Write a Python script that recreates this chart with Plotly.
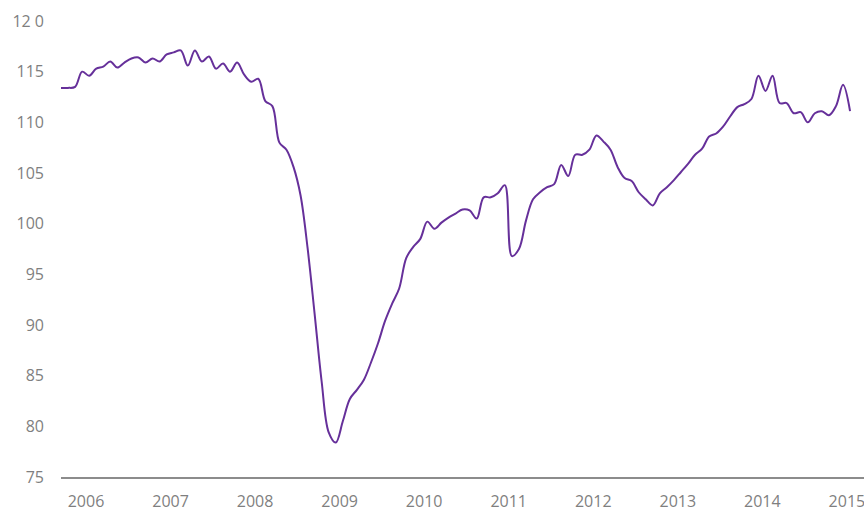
import plotly.graph_objects as go

# Monthly index values (113 months, ~Sep 2005 .. Jan 2015)
values = [
    113.4, 113.4, 113.5, 115.0, 114.6, 115.3, 115.5, 116.0, 115.4, 115.9,   # 0-9
    116.3, 116.4, 115.9, 116.3, 116.0, 116.7, 116.9, 117.1, 115.6, 117.1,   # 10-19
    116.0, 116.5, 115.3, 115.8, 115.0, 115.9, 114.7, 114.0, 114.3, 112.1,   # 20-29
    111.6, 108.0, 107.3, 105.6, 102.8, 97.6, 91.1, 84.4, 79.4, 78.4,        # 30-39
    80.5, 82.7, 83.6, 84.6, 86.3, 88.2, 90.4, 92.1, 93.6, 96.6,             # 40-49
    97.7, 98.5, 100.2, 99.5, 100.1, 100.6, 101.0, 101.4, 101.3, 100.5,      # 50-59
    102.6, 102.6, 103.0, 103.8, 96.8, 97.5, 100.3, 102.4, 103.1, 103.6,     # 60-69
    103.9, 105.8, 104.7, 106.8, 106.8, 107.3, 108.7, 108.1, 107.3, 105.6,   # 70-79
    104.5, 104.2, 103.1, 102.4, 101.8, 103.0, 103.6, 104.3, 105.1, 105.9,   # 80-89
    106.8, 107.4, 108.6, 108.9, 109.6, 110.6, 111.5, 111.8, 112.3, 114.6,   # 90-99
    113.1, 114.6, 111.9, 111.9, 110.9, 111.0, 110.0, 110.9, 111.1, 110.7,   # 100-109
    111.6, 113.7, 111.1,                                                    # 110-112
]
months = list(range(len(values)))

year_labels = ["2006", "2007", "2008", "2009", "2010", "2011", "2012", "2013", "2014", "2015"]
year_pos = [3.55 + 12 * k for k in range(len(year_labels))]

y_ticks = [75, 80, 85, 90, 95, 100, 105, 110, 115, 120]
y_ticktext = ["75", "80", "85", "90", "95", "100", "105", "110", "115", "12 0"]

fig = go.Figure()
fig.add_trace(go.Scatter(
    x=months, y=values, mode="lines",
    line=dict(color="#66309A", width=2, shape="spline", smoothing=1.0),
    hoverinfo="skip", showlegend=False,
))

font_family = "Open Sans, DejaVu Sans, sans-serif"
fig.update_layout(
    width=864, height=509,
    margin=dict(l=61, r=0, t=21, b=32, autoexpand=False),
    paper_bgcolor="white", plot_bgcolor="white",
    font=dict(family=font_family, size=16, color="#7f7f7f"),
    showlegend=False,
)
fig.update_xaxes(
    range=[0, 113.98], tickmode="array", tickvals=year_pos, ticktext=year_labels,
    showgrid=False, zeroline=False, showline=True, linecolor="#8c8c8c", linewidth=1.5,
    ticks="", ticklabelstandoff=9, automargin=False, ticklabeloverflow="allow",
    tickfont=dict(family=font_family, size=16, color="#7f7f7f"),
)
fig.update_yaxes(
    range=[75, 120], tickmode="array", tickvals=y_ticks, ticktext=y_ticktext,
    showgrid=False, zeroline=False, showline=False, ticks="",
    ticklabelstandoff=16, automargin=False,
    tickfont=dict(family=font_family, size=16, color="#7f7f7f"),
)

fig.write_html(
    "out.html",
    config={"displayModeBar": False, "staticPlot": True},
    post_script="document.body.style.margin='0';document.body.style.padding='0';document.body.style.overflow='hidden';",
)
